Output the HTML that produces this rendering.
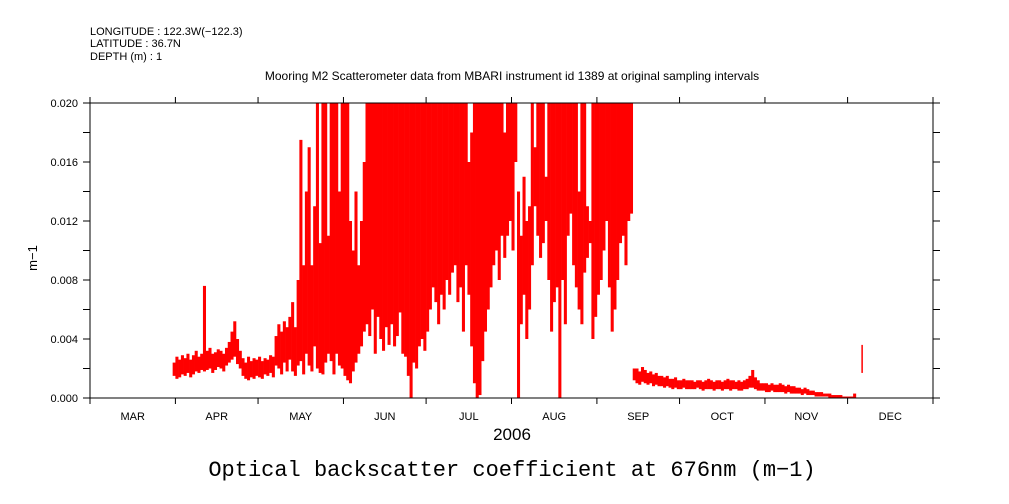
<!DOCTYPE html>
<html><head><meta charset="utf-8"><style>
body{margin:0;background:#fff;width:1009px;height:504px;overflow:hidden}
svg{display:block}
text{font-family:"Liberation Sans",sans-serif;fill:#000}
</style></head><body>
<svg id="chart" width="1009" height="504">
<text x="90" y="35" font-size="11">LONGITUDE : 122.3W(−122.3)</text>
<text x="90" y="47" font-size="11">LATITUDE : 36.7N</text>
<text x="90" y="60" font-size="11">DEPTH (m) : 1</text>
<text x="512" y="80" font-size="12" text-anchor="middle">Mooring M2 Scatterometer data from MBARI instrument id 1389 at original sampling intervals</text>
<text x="512" y="440" font-size="17" text-anchor="middle">2006</text>
<text x="512" y="476" font-size="22" text-anchor="middle" style="font-family:'Liberation Mono',monospace">Optical backscatter coefficient at 676nm (m−1)</text>
<text x="37" y="258" font-size="13" text-anchor="middle" transform="rotate(-90 37 258)">m−1</text>
<g id="marks"></g>
<g id="axes"></g>
</svg>
<script>
const startDay = 30;
const loVals = [1.5,1.3,1.4,1.6,1.5,1.7,1.4,1.6,1.8,1.7,
1.9,1.8,1.9,2.0,1.7,1.9,2.1,2.0,1.8,2.2,
2.4,2.6,2.8,2.3,2.0,1.5,1.3,1.2,1.4,1.3,
1.5,1.4,1.3,1.6,1.5,1.7,1.4,2.2,2.0,1.6,
2.4,1.8,2.6,1.8,1.5,2.2,2.5,1.6,3.0,2.2,
1.8,3.5,2.0,1.7,1.6,2.4,3.0,2.5,1.6,3.0,
2.2,2.0,1.5,1.2,1.0,1.8,2.4,3.0,3.5,4.5,
5.0,4.2,6.0,3.0,5.5,4.0,3.2,4.8,3.6,5.0,
3.5,4.2,5.8,3.0,2.8,1.5,0.0,2.4,2.0,3.5,
4.0,3.2,4.5,6.0,7.5,6.5,5.0,7.0,6.0,8.0,
7.0,8.5,9.0,6.5,7.5,4.5,9.0,7.0,3.5,1.0,
0.0,0.2,2.5,4.5,6.0,7.5,9.0,10.0,8.0,11.0,
9.5,11.0,12.0,10.0,16.0,0.0,5.0,7.0,4.0,6.0,
9.0,13.0,11.0,9.5,10.5,12.0,8.0,4.5,6.5,7.5,
0.0,8.0,5.0,11.0,12.5,9.0,7.5,6.0,5.0,8.5,
9.5,10.5,4.0,5.5,7.0,8.0,10.0,12.0,7.5,4.5,
6.0,8.0,10.5,11.0,9.0,12.0,12.5,1.2,
1.0,0.9,1.1,1.0,0.9,1.0,0.8,0.9,0.8,0.8,
0.7,0.8,0.7,0.6,0.7,0.6,0.6,0.7,0.6,0.6,
0.6,0.6,0.7,0.6,0.5,0.6,0.6,0.6,0.5,0.6,
0.6,0.5,0.6,0.6,0.5,0.6,0.6,0.5,0.5,0.6,
0.6,0.7,0.7,0.6,0.5,0.5,0.5,0.4,0.4,0.5,
0.4,0.4,0.4,0.4,0.3,0.4,0.3,0.3,0.3,0.3,
0.2,0.3,0.2,0.2,0.2,0.1,0.1,0.1,0.1,0.1,
0,0,0,0,0,0,0,0,0,0];
const hiVals = [2.4,2.8,2.6,2.9,2.7,3.0,2.6,2.9,3.2,2.8,
3.0,7.6,3.2,3.4,3.0,3.1,3.3,3.2,3.0,3.4,
3.8,4.5,5.2,4.0,3.2,2.7,2.4,2.8,2.5,2.7,
2.6,2.8,2.5,2.7,2.6,2.9,2.8,4.2,5.0,4.5,
5.2,4.8,5.5,6.5,4.8,8.0,17.5,9.0,14.0,17.0,
9.0,13.0,20,10.5,20,20,11.0,20,20,20,
14.0,20,20,20,12,10,14,9,12,16,
20,20,20,20,20,20,20,20,20,20,
20,20,20,20,20,20,20,20,20,20,
20,20,20,20,20,20,20,20,20,20,
20,20,20,20,20,20,20,16,18,20,
20,20,20,20,20,20,20,20,20,20,
18,20,20,20,20,14,11,15,12,13,
20,17,20,20,20,15,20,20,20,20,
20,20,20,20,20,20,20,14,20,20,
13,12,20,20,20,20,20,20,20,20,
20,20,20,20,20,20,20,2.0,
2.0,1.8,2.1,1.9,1.7,1.8,1.6,1.7,1.5,1.5,
1.4,1.5,1.3,1.3,1.4,1.2,1.2,1.3,1.2,1.2,
1.2,1.1,1.2,1.2,1.1,1.2,1.3,1.2,1.1,1.2,
1.2,1.1,1.2,1.3,1.2,1.2,1.1,1.2,1.1,1.2,
1.3,1.5,1.9,1.4,1.2,1.0,1.0,1.0,0.9,1.0,
0.9,0.9,1.0,0.9,0.8,0.9,0.8,0.8,0.7,0.7,
0.6,0.7,0.6,0.5,0.5,0.4,0.4,0.4,0.3,0.3,
0.3,0.2,0.2,0.2,0.2,0.1,0.1,0.1,0.1,0.3];
const spikeDays = [280];
const spikeLo = [1.7];
const spikeHi = [3.6];
const monthLabels = ["MAR","APR","MAY","JUN","JUL","AUG","SEP","OCT","NOV","DEC"];
const monthStarts = [0,31,61,92,122,153,184,214,245,275,306];
const yTicks = [0,2,4,6,8,10,12,14,16,18,20];
const yTickLabels = ["0.000","","0.004","","0.008","","0.012","","0.016","","0.020"];

const NS="http://www.w3.org/2000/svg";
const L=90,R=933,T=103,B=398,TOTAL=306,VMAX=20;
const xS=d=>L+d*(R-L)/TOTAL;
const yS=v=>B-Math.min(v,VMAX)*(B-T)/VMAX;
const marks=document.getElementById('marks'),axes=document.getElementById('axes');
function mk(tag,attrs,parent){const e=document.createElementNS(NS,tag);for(const k in attrs)e.setAttribute(k,attrs[k]);parent.appendChild(e);return e;}
const dw=(R-L)/TOTAL;
loVals.forEach((lo,i)=>{
  const hi=hiVals[i],d=startDay+i;
  const top=Math.max(lo,hi),bot=Math.min(lo,hi);
  const r=mk('rect',{x:xS(d),y:yS(top),width:dw+0.3,height:Math.max(1,yS(bot)-yS(top)),fill:'#f00'},marks);
  
  
});
spikeDays.forEach((d,i)=>{
  const r=mk('rect',{x:xS(d),y:yS(spikeHi[i]),width:1.5,height:yS(spikeLo[i])-yS(spikeHi[i]),fill:'#f00'},marks);
  
  
});
const fr=mk('rect',{x:L,y:T,width:R-L,height:B-T,fill:'none',stroke:'#000','stroke-width':1},axes);


yTicks.forEach((v,i)=>{
  const y=yS(v);
  mk('line',{x1:L-7,x2:L,y1:y,y2:y,stroke:'#000','stroke-width':1},axes);
  mk('line',{x1:R,x2:R+7,y1:y,y2:y,stroke:'#000','stroke-width':1},axes);
  if(yTickLabels[i]){const t=mk('text',{x:L-12,y:y+4,'font-size':11,'text-anchor':'end'},axes);t.textContent=yTickLabels[i];
  
  }
});
monthStarts.forEach((d,i)=>{
  const x=xS(d);
  mk('line',{x1:x,x2:x,y1:B,y2:B+6,stroke:'#000','stroke-width':1},axes);
  mk('line',{x1:x,x2:x,y1:T-6,y2:T,stroke:'#000','stroke-width':1},axes);
  if(i<monthLabels.length){const t=mk('text',{x:(x+xS(monthStarts[i+1]))/2,y:420,'font-size':11,'text-anchor':'middle'},axes);t.textContent=monthLabels[i];
  
  }
});
</script>
</body></html>
